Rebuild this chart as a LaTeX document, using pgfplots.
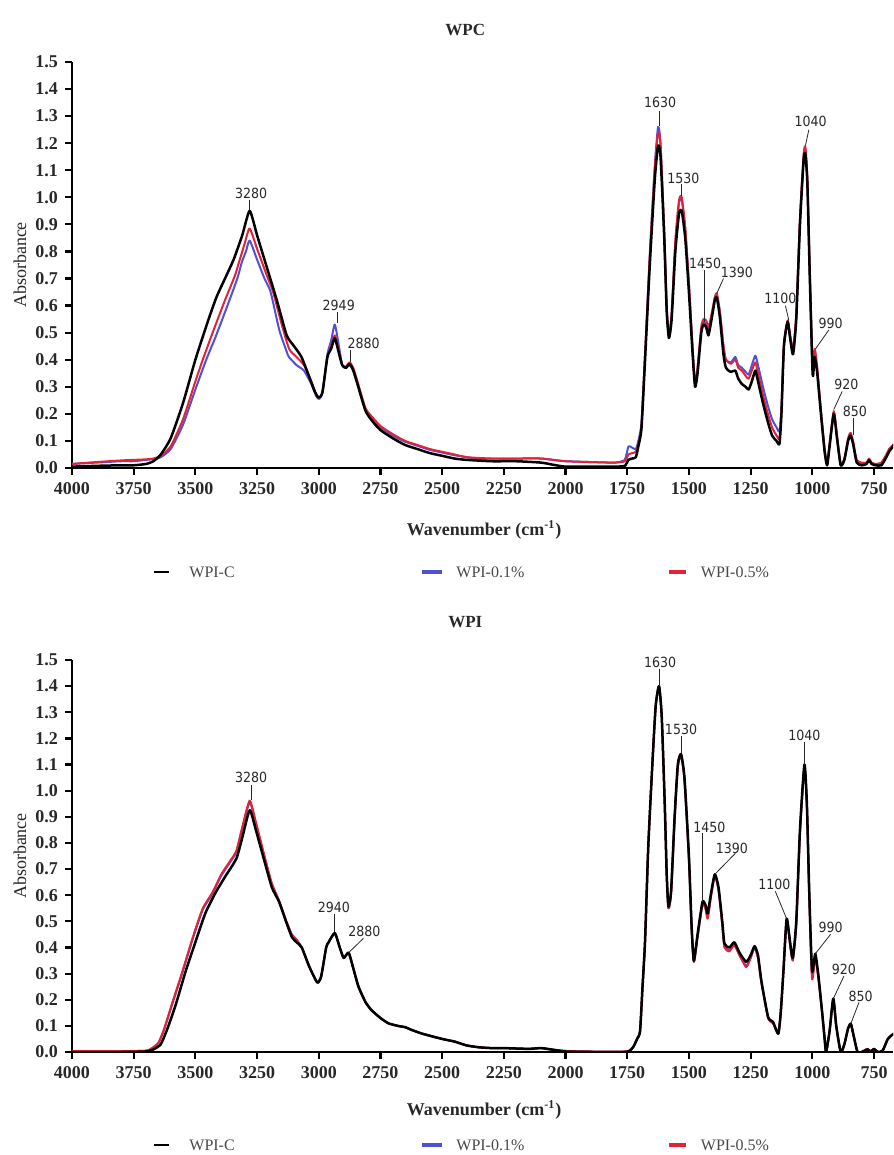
\documentclass[border=0pt]{standalone}
\usepackage{fontspec}
\setmainfont{Liberation Serif}
\newfontfamily\annfont[FakeStretch=0.9]{DejaVu Sans}
\usepackage{pgfplots}
\pgfplotsset{compat=1.18}
\definecolor{specblue}{RGB}{80,80,215}
\definecolor{specred}{RGB}{225,35,55}
\definecolor{inkgray}{RGB}{40,40,40}

\tikzset{
  pk/.style={font=\annfont\fontsize{7}{8}\selectfont, text=inkgray, inner sep=0.5pt},
  pkl/.style={draw=inkgray, line width=0.4pt},
}
\pgfplotsset{
  ftir/.style={
    scale only axis, width=410.5pt,
    x dir=reverse, xmin=673, xmax=4000, ymin=0, ymax=1.5,
    axis x line=bottom, axis y line=left,
    axis line style={-, line width=1.1pt, black},
    tick align=outside, major tick length=3.5pt,
    tick style={line width=1.1pt, black},
    xtick={750,1000,1250,1500,1750,2000,2250,2500,2750,3000,3250,3500,3750,4000},
    ytick={0,0.1,0.2,0.3,0.4,0.5,0.6,0.7,0.8,0.9,1.0,1.1,1.2,1.3,1.4,1.5},
    xticklabel style={font=\bfseries\fontsize{9}{10}\selectfont, text=inkgray,
      /pgf/number format/1000 sep={}, /pgf/number format/assume math mode=true},
    yticklabel style={font=\bfseries\fontsize{9}{10}\selectfont, text=inkgray,
      /pgf/number format/.cd, fixed, fixed zerofill, precision=1, assume math mode=true},
    clip mode=individual,
  },
  cblack/.style={black, line width=1.25pt, line join=round, smooth, tension=0.35},
  cblue/.style={specblue, line width=1pt, line join=round, smooth, tension=0.35},
  cred/.style={specred, line width=1pt, line join=round, smooth, tension=0.35},
}

\begin{document}
\begin{tikzpicture}

% ---------------- WPC ----------------
\begin{axis}[ftir, height=203pt, at={(0pt,0pt)}, anchor=south west]
\addplot[cblue] coordinates {
(4000,0.015)(3900,0.02)(3800,0.025)(3750,0.025)(3700,0.03)(3670,0.033)(3640,0.04)(3600,0.07)
(3550,0.16)(3500,0.29)(3456,0.40)(3420,0.48)(3370,0.60)(3330,0.70)(3312,0.76)(3295,0.80)(3280,0.84)
(3250,0.77)(3220,0.70)(3195,0.65)(3160,0.51)(3130,0.43)(3121,0.41)(3090,0.38)(3060,0.36)(3030,0.31)
(3010,0.265)(2998,0.255)(2985,0.28)(2965,0.42)(2950,0.47)(2935,0.53)(2920,0.46)(2905,0.38)(2890,0.37)
(2875,0.38)(2860,0.36)(2840,0.305)(2810,0.215)(2780,0.18)(2750,0.15)(2700,0.12)(2650,0.097)(2600,0.082)
(2550,0.067)(2500,0.057)(2450,0.047)(2400,0.04)(2350,0.033)(2300,0.035)(2200,0.035)(2100,0.035)
(2050,0.03)(2000,0.025)(1900,0.022)(1800,0.02)(1760,0.03)(1745,0.08)(1730,0.075)(1715,0.07)(1705,0.10)
(1692,0.17)(1675,0.47)(1658,0.80)(1638,1.12)(1625,1.26)(1615,1.20)(1600,0.87)(1590,0.59)(1581,0.49)
(1570,0.57)(1555,0.83)(1540,0.98)(1529,0.99)(1515,0.88)(1500,0.68)(1485,0.44)(1475,0.31)(1465,0.37)
(1450,0.51)(1441,0.54)(1430,0.53)(1421,0.50)(1410,0.55)(1395,0.63)(1387,0.64)(1375,0.58)(1360,0.45)
(1350,0.40)(1330,0.39)(1312,0.41)(1300,0.38)(1285,0.37)(1270,0.355)(1258,0.345)(1245,0.38)(1231,0.415)
(1220,0.38)(1200,0.30)(1180,0.23)(1163,0.18)(1145,0.15)(1133,0.135)(1125,0.22)(1115,0.45)(1100,0.54)
(1090,0.49)(1078,0.435)(1065,0.56)(1050,0.91)(1035,1.15)(1028,1.175)(1020,1.06)(1010,0.71)(1000,0.39)
(997,0.36)(990,0.43)(980,0.36)(965,0.21)(950,0.065)(940,0.012)(930,0.085)(913,0.205)(900,0.115)
(885,0.012)(870,0.032)(855,0.105)(845,0.125)(835,0.095)(820,0.025)(800,0.015)(780,0.018)(770,0.032)
(760,0.018)(743,0.012)(720,0.015)(700,0.045)(689,0.065)(673,0.082)(665,0.09)};
\addplot[cred] coordinates {
(4000,0.015)(3900,0.022)(3800,0.028)(3750,0.03)(3700,0.032)(3670,0.035)(3640,0.045)(3600,0.08)
(3550,0.18)(3500,0.32)(3470,0.40)(3430,0.50)(3380,0.62)(3340,0.71)(3320,0.77)(3300,0.83)(3280,0.885)
(3250,0.81)(3210,0.71)(3185,0.65)(3150,0.53)(3120,0.44)(3090,0.41)(3060,0.38)(3030,0.32)(3010,0.27)
(2998,0.26)(2985,0.28)(2965,0.41)(2950,0.45)(2935,0.49)(2920,0.44)(2905,0.38)(2890,0.375)(2875,0.39)
(2860,0.37)(2840,0.31)(2810,0.22)(2780,0.185)(2750,0.155)(2700,0.125)(2650,0.10)(2600,0.085)(2550,0.07)
(2500,0.06)(2450,0.05)(2400,0.04)(2300,0.035)(2200,0.035)(2100,0.035)(2050,0.03)(2000,0.025)(1900,0.022)
(1800,0.02)(1760,0.025)(1745,0.05)(1730,0.055)(1715,0.06)(1705,0.09)(1692,0.16)(1675,0.47)(1658,0.79)
(1638,1.11)(1625,1.24)(1615,1.19)(1600,0.87)(1590,0.59)(1581,0.49)(1570,0.57)(1555,0.84)(1540,0.99)
(1529,1.0)(1515,0.89)(1500,0.68)(1485,0.44)(1475,0.31)(1465,0.37)(1450,0.52)(1441,0.55)(1430,0.545)
(1421,0.52)(1410,0.56)(1395,0.63)(1387,0.645)(1375,0.58)(1360,0.45)(1350,0.40)(1330,0.385)(1312,0.40)
(1300,0.37)(1285,0.36)(1270,0.34)(1258,0.33)(1245,0.36)(1231,0.39)(1220,0.35)(1200,0.27)(1180,0.20)
(1163,0.15)(1145,0.12)(1133,0.11)(1125,0.22)(1115,0.46)(1100,0.545)(1090,0.49)(1078,0.44)(1065,0.57)
(1050,0.92)(1035,1.16)(1028,1.185)(1020,1.07)(1010,0.72)(1000,0.40)(997,0.37)(990,0.44)(980,0.37)
(965,0.21)(950,0.07)(940,0.015)(930,0.09)(913,0.21)(900,0.12)(885,0.015)(870,0.035)(855,0.11)(845,0.13)
(835,0.10)(820,0.03)(800,0.02)(780,0.02)(770,0.035)(760,0.02)(743,0.015)(720,0.02)(700,0.05)(689,0.07)
(673,0.085)(665,0.095)};
\addplot[cblack] coordinates {
(4000,0.005)(3900,0.008)(3800,0.01)(3750,0.01)(3700,0.015)(3670,0.025)(3640,0.05)(3600,0.11)
(3550,0.24)(3500,0.40)(3450,0.54)(3415,0.63)(3380,0.70)(3345,0.77)(3310,0.86)(3280,0.95)(3250,0.86)
(3210,0.74)(3170,0.62)(3130,0.49)(3100,0.45)(3070,0.41)(3040,0.34)(3015,0.28)(3000,0.26)(2985,0.28)
(2965,0.41)(2950,0.44)(2935,0.48)(2920,0.43)(2905,0.38)(2890,0.37)(2875,0.385)(2860,0.36)(2840,0.30)
(2810,0.21)(2780,0.17)(2750,0.14)(2700,0.11)(2650,0.085)(2600,0.07)(2550,0.055)(2500,0.045)(2450,0.035)
(2400,0.03)(2300,0.025)(2200,0.025)(2100,0.02)(2050,0.012)(2000,0.005)(1900,0.005)(1800,0.005)
(1760,0.008)(1745,0.03)(1730,0.035)(1715,0.04)(1705,0.08)(1692,0.15)(1675,0.45)(1658,0.76)(1638,1.07)
(1625,1.19)(1615,1.15)(1600,0.85)(1590,0.58)(1581,0.48)(1570,0.55)(1555,0.80)(1540,0.94)(1529,0.95)
(1515,0.85)(1500,0.65)(1485,0.42)(1475,0.30)(1465,0.35)(1450,0.50)(1441,0.53)(1430,0.52)(1421,0.49)
(1410,0.54)(1395,0.62)(1387,0.63)(1375,0.56)(1360,0.42)(1350,0.37)(1330,0.355)(1312,0.36)(1300,0.33)
(1285,0.31)(1270,0.30)(1258,0.29)(1245,0.32)(1231,0.36)(1220,0.32)(1200,0.24)(1180,0.17)(1163,0.12)
(1145,0.10)(1133,0.09)(1125,0.20)(1115,0.45)(1100,0.54)(1090,0.48)(1078,0.42)(1065,0.55)(1050,0.90)
(1035,1.14)(1028,1.16)(1020,1.05)(1010,0.70)(1000,0.38)(997,0.34)(990,0.41)(980,0.35)(965,0.20)
(950,0.06)(940,0.01)(930,0.08)(913,0.20)(900,0.11)(885,0.01)(870,0.03)(855,0.10)(845,0.12)(835,0.09)
(820,0.02)(800,0.01)(780,0.015)(770,0.03)(760,0.015)(743,0.01)(720,0.01)(700,0.04)(689,0.06)
(673,0.08)(665,0.09)};

% peak labels
\draw[pkl] (axis cs:3280,0.955) -- (axis cs:3280,0.99);
\node[pk] at (axis cs:3274,1.015) {3280};
\draw[pkl] (axis cs:2925,0.535) -- (axis cs:2925,0.575);
\node[pk] at (axis cs:2919,0.60) {2949};
\draw[pkl] (axis cs:2871,0.39) -- (axis cs:2871,0.435);
\node[pk] at (axis cs:2818,0.46) {2880};
\draw[pkl] (axis cs:1621,1.265) -- (axis cs:1621,1.32);
\node[pk] at (axis cs:1617,1.35) {1630};
\draw[pkl] (axis cs:1529,1.005) -- (axis cs:1529,1.05);
\node[pk] at (axis cs:1522,1.07) {1530};
\draw[pkl] (axis cs:1437,0.54) -- (axis cs:1437,0.73);
\node[pk] at (axis cs:1434,0.757) {1450};
\draw[pkl] (axis cs:1387,0.645) -- (axis cs:1360,0.70);
\node[pk] at (axis cs:1306,0.724) {1390};
\draw[pkl] (axis cs:1095,0.545) -- (axis cs:1109,0.60);
\node[pk] at (axis cs:1129,0.628) {1100};
\draw[pkl] (axis cs:1028,1.19) -- (axis cs:1014,1.25);
\node[pk] at (axis cs:1007,1.28) {1040};
\draw[pkl] (axis cs:987,0.44) -- (axis cs:933,0.51);
\node[pk] at (axis cs:926,0.535) {990};
\draw[pkl] (axis cs:913,0.216) -- (axis cs:879,0.283);
\node[pk] at (axis cs:862,0.31) {920};
\draw[pkl] (axis cs:835,0.123) -- (axis cs:835,0.185);
\node[pk] at (axis cs:827,0.21) {850};

\node[font=\bfseries\fontsize{8.5}{10}\selectfont, text=inkgray] at (axis description cs:0.479,1) [yshift=16pt] {WPC};
\node[font=\bfseries\fontsize{9}{10}\selectfont, text=inkgray] at (axis description cs:0.502,0) [yshift=-31pt] {Wavenumber (cm\textsuperscript{-1})};
\node[font=\fontsize{9}{10}\selectfont, text=inkgray, xshift=-26pt, rotate=90] at (axis description cs:0,0.5) {Absorbance};
\end{axis}

% ---------------- WPI ----------------
\begin{axis}[ftir, height=196pt, at={(0pt,-292pt)}, anchor=south west]
\addplot[cblue] coordinates {
(4000,0.003)(3800,0.003)(3700,0.005)(3680,0.012)(3650,0.034)(3626,0.088)(3593,0.185)(3552,0.305)
(3510,0.435)(3470,0.545)(3431,0.605)(3395,0.675)(3360,0.725)(3334,0.765)(3310,0.855)(3280,0.955)
(3255,0.875)(3220,0.745)(3190,0.64)(3161,0.578)(3133,0.503)(3109,0.448)(3090,0.428)(3069,0.40)
(3040,0.33)(3015,0.28)(3004,0.265)(2990,0.29)(2970,0.40)(2960,0.42)(2935,0.455)(2915,0.40)(2899,0.36)
(2879,0.38)(2860,0.32)(2839,0.25)(2810,0.19)(2786,0.16)(2750,0.13)(2718,0.11)(2680,0.10)(2650,0.095)
(2625,0.085)(2580,0.07)(2500,0.05)(2450,0.04)(2400,0.025)(2350,0.018)(2300,0.015)(2250,0.015)
(2150,0.012)(2100,0.015)(2060,0.01)(2000,0.004)(1900,0.002)(1760,0.002)(1740,0.006)(1725,0.02)
(1710,0.05)(1698,0.08)(1688,0.25)(1678,0.42)(1665,0.78)(1651,1.05)(1635,1.32)(1621,1.40)(1610,1.28)
(1598,0.95)(1590,0.68)(1583,0.55)(1572,0.61)(1558,0.89)(1545,1.09)(1532,1.135)(1518,1.04)(1500,0.74)
(1489,0.47)(1480,0.345)(1465,0.44)(1445,0.565)(1432,0.55)(1424,0.515)(1410,0.60)(1395,0.675)(1380,0.62)
(1365,0.49)(1356,0.405)(1336,0.39)(1316,0.41)(1295,0.37)(1268,0.33)(1250,0.36)(1234,0.40)(1220,0.36)
(1206,0.265)(1179,0.13)(1159,0.11)(1138,0.07)(1128,0.15)(1117,0.31)(1104,0.505)(1090,0.415)(1079,0.355)
(1065,0.49)(1050,0.84)(1032,1.09)(1022,0.94)(1012,0.59)(1001,0.29)(988,0.37)(975,0.28)(960,0.15)
(950,0.05)(944,0.0)(930,0.08)(915,0.205)(903,0.10)(885,0.0)(870,0.03)(855,0.09)(844,0.108)(832,0.06)
(817,0.002)(800,0.0)(776,0.012)(765,0.003)(750,0.012)(735,0.0)(715,0.005)(694,0.05)(673,0.068)
(661,0.077)};
\addplot[cred] coordinates {
(4000,0.003)(3800,0.003)(3700,0.005)(3680,0.012)(3650,0.035)(3626,0.09)(3593,0.19)(3552,0.31)
(3510,0.44)(3470,0.55)(3431,0.61)(3395,0.68)(3360,0.73)(3334,0.77)(3310,0.86)(3280,0.962)
(3255,0.88)(3220,0.75)(3190,0.645)(3161,0.58)(3133,0.505)(3109,0.45)(3090,0.43)(3069,0.40)
(3040,0.33)(3015,0.28)(3004,0.265)(2990,0.29)(2970,0.40)(2960,0.42)(2935,0.455)(2915,0.40)(2899,0.36)
(2879,0.38)(2860,0.32)(2839,0.25)(2810,0.19)(2786,0.16)(2750,0.13)(2718,0.11)(2680,0.10)(2650,0.095)
(2625,0.085)(2580,0.07)(2500,0.05)(2450,0.04)(2400,0.025)(2350,0.018)(2300,0.015)(2250,0.015)
(2150,0.012)(2100,0.015)(2060,0.01)(2000,0.004)(1900,0.002)(1760,0.002)(1740,0.006)(1725,0.02)
(1710,0.05)(1698,0.08)(1688,0.25)(1678,0.42)(1665,0.78)(1651,1.05)(1635,1.32)(1621,1.40)(1610,1.28)
(1598,0.95)(1590,0.68)(1583,0.55)(1572,0.61)(1558,0.89)(1545,1.09)(1532,1.135)(1518,1.04)(1500,0.74)
(1489,0.47)(1480,0.345)(1465,0.44)(1445,0.565)(1432,0.545)(1424,0.51)(1410,0.60)(1395,0.675)(1380,0.62)
(1365,0.49)(1356,0.40)(1336,0.385)(1316,0.41)(1295,0.37)(1268,0.325)(1250,0.36)(1234,0.40)(1220,0.36)
(1206,0.265)(1179,0.13)(1159,0.11)(1138,0.07)(1128,0.15)(1117,0.31)(1104,0.505)(1090,0.41)(1079,0.35)
(1065,0.49)(1050,0.84)(1032,1.09)(1022,0.94)(1012,0.58)(1001,0.28)(988,0.36)(975,0.28)(960,0.15)
(950,0.05)(944,0.0)(930,0.08)(915,0.205)(903,0.10)(885,0.0)(870,0.03)(855,0.09)(844,0.108)(832,0.06)
(817,0.002)(800,0.0)(776,0.012)(765,0.003)(750,0.012)(735,0.0)(715,0.005)(694,0.05)(673,0.068)
(661,0.077)};
\addplot[cblack] coordinates {
(4000,0.0)(3800,0.0)(3700,0.002)(3670,0.01)(3640,0.03)(3613,0.09)(3580,0.18)(3539,0.31)(3500,0.42)
(3460,0.53)(3418,0.61)(3380,0.67)(3334,0.74)(3310,0.82)(3280,0.925)(3255,0.85)(3220,0.73)(3190,0.63)
(3161,0.575)(3133,0.50)(3109,0.44)(3090,0.42)(3069,0.40)(3040,0.33)(3015,0.28)(3004,0.265)(2990,0.29)
(2970,0.40)(2960,0.42)(2935,0.455)(2915,0.40)(2899,0.36)(2879,0.38)(2860,0.32)(2839,0.25)(2810,0.19)
(2786,0.16)(2750,0.13)(2718,0.11)(2680,0.10)(2650,0.095)(2625,0.085)(2580,0.07)(2500,0.05)(2450,0.04)
(2400,0.025)(2350,0.018)(2300,0.015)(2250,0.015)(2150,0.012)(2100,0.015)(2060,0.01)(2000,0.002)
(1900,0.0)(1760,0.0)(1740,0.005)(1725,0.02)(1710,0.05)(1698,0.08)(1688,0.25)(1678,0.42)(1665,0.78)
(1651,1.05)(1635,1.32)(1621,1.40)(1610,1.28)(1598,0.95)(1590,0.68)(1583,0.556)(1572,0.62)(1558,0.90)
(1545,1.10)(1532,1.14)(1518,1.05)(1500,0.75)(1489,0.48)(1480,0.35)(1465,0.45)(1445,0.575)(1432,0.56)
(1424,0.53)(1410,0.61)(1395,0.68)(1380,0.63)(1365,0.50)(1356,0.415)(1336,0.40)(1316,0.42)(1295,0.38)
(1268,0.345)(1250,0.37)(1234,0.405)(1220,0.37)(1206,0.27)(1179,0.134)(1159,0.115)(1138,0.07)(1128,0.15)
(1117,0.31)(1104,0.51)(1090,0.42)(1079,0.36)(1065,0.50)(1050,0.85)(1032,1.10)(1022,0.95)(1012,0.60)
(1001,0.31)(988,0.376)(975,0.29)(960,0.15)(950,0.05)(944,0.0)(930,0.08)(915,0.204)(903,0.10)(885,0.0)
(870,0.03)(855,0.09)(844,0.108)(832,0.06)(817,0.0)(800,0.0)(776,0.01)(765,0.0)(750,0.012)(735,0.0)
(715,0.005)(694,0.05)(673,0.068)(661,0.077)};

\draw[pkl] (axis cs:3274,0.965) -- (axis cs:3274,1.02);
\node[pk] at (axis cs:3274,1.05) {3280};
\draw[pkl] (axis cs:2935,0.46) -- (axis cs:2935,0.53);
\node[pk] at (axis cs:2939,0.555) {2940};
\draw[pkl] (axis cs:2879,0.38) -- (axis cs:2819,0.435);
\node[pk] at (axis cs:2815,0.46) {2880};
\draw[pkl] (axis cs:1621,1.40) -- (axis cs:1621,1.465);
\node[pk] at (axis cs:1617,1.49) {1630};
\draw[pkl] (axis cs:1532,1.14) -- (axis cs:1532,1.21);
\node[pk] at (axis cs:1532,1.235) {1530};
\draw[pkl] (axis cs:1445,0.575) -- (axis cs:1445,0.837);
\node[pk] at (axis cs:1417,0.86) {1450};
\draw[pkl] (axis cs:1395,0.68) -- (axis cs:1312,0.76);
\node[pk] at (axis cs:1326,0.78) {1390};
\draw[pkl] (axis cs:1104,0.51) -- (axis cs:1150,0.615);
\node[pk] at (axis cs:1154,0.64) {1100};
\draw[pkl] (axis cs:1032,1.10) -- (axis cs:1032,1.185);
\node[pk] at (axis cs:1032,1.21) {1040};
\draw[pkl] (axis cs:988,0.376) -- (axis cs:926,0.45);
\node[pk] at (axis cs:926,0.475) {990};
\draw[pkl] (axis cs:915,0.204) -- (axis cs:872,0.29);
\node[pk] at (axis cs:872,0.315) {920};
\draw[pkl] (axis cs:844,0.108) -- (axis cs:811,0.19);
\node[pk] at (axis cs:804,0.214) {850};

\node[font=\bfseries\fontsize{8.5}{10}\selectfont, text=inkgray] at (axis description cs:0.479,1) [yshift=19pt] {WPI};
\node[font=\bfseries\fontsize{9}{10}\selectfont, text=inkgray] at (axis description cs:0.502,0) [yshift=-29pt] {Wavenumber (cm\textsuperscript{-1})};
\node[font=\fontsize{9}{10}\selectfont, text=inkgray, xshift=-26pt, rotate=90] at (axis description cs:0,0.5) {Absorbance};
\end{axis}

% legends
\foreach \ly in {-52pt,-338.5pt}{
  \draw[black, line width=1.2pt] (41pt,\ly) -- (48.5pt,\ly);
  \node[anchor=west, font=\fontsize{8}{9}\selectfont, text=inkgray!85, inner sep=0pt] at (58.5pt,\ly) {WPI-C};
  \draw[specblue, line width=1.6pt] (175pt,\ly) -- (185pt,\ly);
  \node[anchor=west, font=\fontsize{8}{9}\selectfont, text=inkgray!85, inner sep=0pt] at (192pt,\ly) {WPI-0.1\%};
  \draw[specred, line width=1.6pt] (298.5pt,\ly) -- (307pt,\ly);
  \node[anchor=west, font=\fontsize{8}{9}\selectfont, text=inkgray!85, inner sep=0pt] at (314.25pt,\ly) {WPI-0.5\%};
}

\pgfresetboundingbox
\path[use as bounding box] (-36pt,-343.5pt) rectangle (410.5pt,234pt);
\end{tikzpicture}
\end{document}
